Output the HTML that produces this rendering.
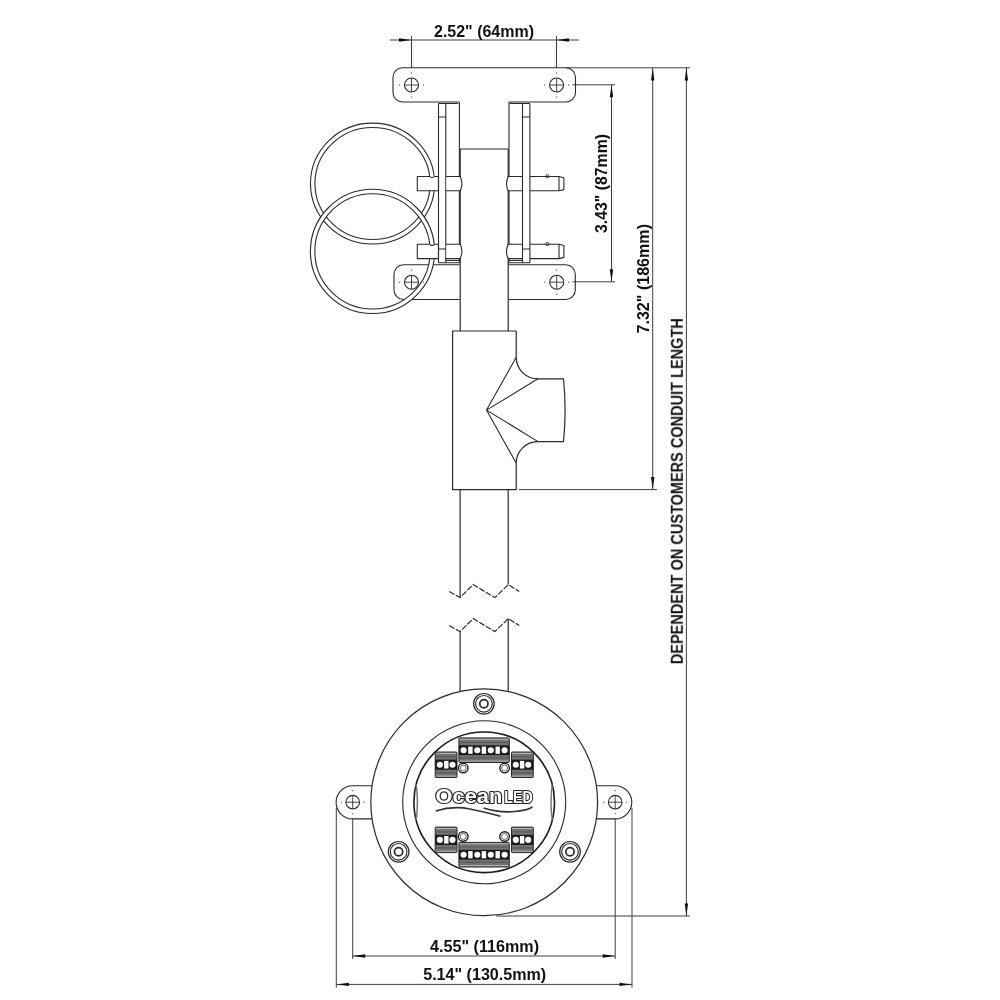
<!DOCTYPE html>
<html><head><meta charset="utf-8"><title>Dimensions</title>
<style>
html,body{margin:0;padding:0;background:#fff;}
body{width:1000px;height:1000px;overflow:hidden;font-family:"Liberation Sans",sans-serif;}
svg{display:block;will-change:transform;transform:translateZ(0);}
</style></head><body>
<svg width="1000" height="1000" viewBox="0 0 1000 1000">
<rect width="1000" height="1000" fill="#fff"/>
<g stroke="#3e3e46" stroke-width="1" fill="none">
<path d="M390 40H579"/>
<path d="M411.5 36V67.5M556.5 36V67.5"/>
<path d="M566 67.8H690"/>
<path d="M572.5 84.8H615M572.5 281.8H615M611.5 84.8V281.8"/>
<path d="M652.7 67.8V489.6M519 489.6H657"/>
<path d="M686.4 67.8V916M496 916H690"/>
<path d="M352.7 819V959M615.2 819V959M352.7 956H615.2"/>
<path d="M336.3 808V987.5M632 808V987.5M336.3 984.4H632"/>
</g>
<polygon points="411.5,40.0 399.0,38.3 399.0,41.7" fill="#111"/>
<polygon points="556.5,40.0 569.0,38.3 569.0,41.7" fill="#111"/>
<polygon points="611.5,84.8 609.8,97.3 613.2,97.3" fill="#111"/>
<polygon points="611.5,281.8 609.8,269.3 613.2,269.3" fill="#111"/>
<polygon points="652.7,68.0 651.0,80.5 654.4,80.5" fill="#111"/>
<polygon points="652.7,489.6 651.0,477.1 654.4,477.1" fill="#111"/>
<polygon points="686.4,68.0 684.7,80.5 688.1,80.5" fill="#111"/>
<polygon points="686.4,916.0 684.7,903.5 688.1,903.5" fill="#111"/>
<polygon points="352.7,956.0 365.2,954.3 365.2,957.7" fill="#111"/>
<polygon points="615.2,956.0 602.7,954.3 602.7,957.7" fill="#111"/>
<polygon points="336.4,984.4 348.9,982.7 348.9,986.1" fill="#111"/>
<polygon points="632.0,984.4 619.5,982.7 619.5,986.1" fill="#111"/>
<g stroke="#2a2a2a" stroke-width="1.1" fill="none" stroke-linejoin="round">
<ellipse cx="372.55" cy="183.55" rx="59.8" ry="58.2" stroke="#fff" stroke-width="4.4"/>
<ellipse cx="372.55" cy="183.55" rx="62.05" ry="60.45"/><ellipse cx="372.55" cy="183.55" rx="57.6" ry="56"/>
<path d="M459.5 264.8H403.5A9.5 9.5 0 0 0 394 274.3V290A9.5 9.5 0 0 0 403.5 299.5H459.5" fill="none"/>
<path d="M508.7 264.8H565.8A9.5 9.5 0 0 1 575.3 274.3V290A9.5 9.5 0 0 1 565.8 299.5H508.7"/>
<circle cx="372.5" cy="251.4" r="59.9" stroke="#fff" stroke-width="4.4"/>
<circle cx="372.5" cy="251.4" r="62.1"/><circle cx="372.5" cy="251.4" r="57.65"/>
<path d="M459.3 102H402.5A9.5 9.5 0 0 1 393 92.5V77.3A9.5 9.5 0 0 1 402.5 67.8H566A9.5 9.5 0 0 1 575.5 77.3V92.5A9.5 9.5 0 0 1 566 102H508.7"/>
<path d="M438.5 176.5H417.3V190.8H438.5Z" fill="#fff"/>
<path d="M430.3 176.5H433.9" stroke="#fff" stroke-width="1.8"/>
<path d="M429.7 176.5Q432 179.1 434.3 176.5"/>
<path d="M530 176.5H559L563.9 177.7V189.6L559 190.8H530"/>
<path d="M559 176.5V190.8"/>
<circle cx="547.4" cy="176.2" r="1.6" stroke-width="0.9"/>
<path d="M438.5 244.3H417.3V258.6H438.5Z" fill="#fff"/>
<path d="M430.3 244.3H433.9" stroke="#fff" stroke-width="1.8"/>
<path d="M429.7 244.3Q432 246.9 434.3 244.3"/>
<path d="M530 244.3H559L563.9 245.5V257.4L559 258.6H530"/>
<path d="M559 244.3V258.6"/>
<circle cx="547.4" cy="244.0" r="1.6" stroke-width="0.9"/>
<path d="M438.5 103.5V262.8M445.8 103.5V262.8M438.5 103.5H458M438.5 117H445.8M438.5 249H445.8M438.5 262.8H459.5M445.8 260.5H459.5"/>
<path d="M529.9 103.5V262.8M522.5 103.5V262.8M529.9 103.5H510M522.5 117H529.9M522.5 249H529.9M529.9 262.8H508.7M522.5 260.5H508.7"/>
<path d="M459.4 102V263M509.0 102V263" stroke-width="1.1"/>
<path d="M460.2 149H508.2M460.2 149V331M508.2 149V331" stroke-width="1.2"/>
<path d="M446.4 176.5H460.2Q463.6 183.7 460.2 190.8H446.4Z" fill="#fff" stroke="none"/>
<path d="M445.8 176.5H460.2Q463.6 183.7 460.2 190.8H445.8"/>
<path d="M521.9 176.5H508.2Q504.8 183.7 508.2 190.8H521.9Z" fill="#fff" stroke="none"/>
<path d="M522.5 176.5H508.2Q504.8 183.7 508.2 190.8H522.5"/>
<path d="M446.4 244.3H460.2Q463.6 251.5 460.2 258.6H446.4Z" fill="#fff" stroke="none"/>
<path d="M445.8 244.3H460.2Q463.6 251.5 460.2 258.6H445.8"/>
<path d="M521.9 244.3H508.2Q504.8 251.5 508.2 258.6H521.9Z" fill="#fff" stroke="none"/>
<path d="M522.5 244.3H508.2Q504.8 251.5 508.2 258.6H522.5"/>
<path d="M452.6 331H516.2V357.3A21.6 21.6 0 0 0 538 378.8H563.5Q566.7 410.2 563.5 441.6H538A21.6 21.6 0 0 0 516.2 463.1V489.6H452.6Z" stroke-width="1.2"/>
<path d="M516.2 357.3L486.5 410.1L516.2 463.1M538 378.8L486.5 410.1L538 441.6"/>
<path d="M460.1 489.6V597.6M508.2 489.6V584.6M460.1 631.6V691M508.2 618.6V691" stroke-width="1.2"/>
</g>
<g stroke="#2a2a2a" stroke-width="1.2" fill="none" stroke-dasharray="6 1.6">
<path d="M449.2 591.6L460 597.6L473.2 584.6L494.8 597.6L508.3 584.6L519.3 591.6"/>
<path d="M449.2 625.6L460 631.6L473.2 618.6L494.8 631.6L508.3 618.6L519.3 625.6"/>
</g>
<g stroke="#2a2a2a" stroke-width="1.1" fill="none">
<path d="M374 785.7H352.7A16.5 16.5 0 0 0 352.7 818.9H374" fill="#fff"/>
<path d="M594.5 785.7H615.2A16.5 16.5 0 0 1 615.2 818.9H594.5" fill="#fff"/>
<circle cx="484.2" cy="802.3" r="113.4" fill="#fff" stroke-width="1.2"/>
<circle cx="484.2" cy="802.3" r="81.5"/>
<circle cx="484.2" cy="802.3" r="70.3" stroke-width="1.6" stroke="#1c1c1c"/>
<path d="M416.2 784.6Q418.6 802.3 416.2 820M552.2 784.6Q549.8 802.3 552.2 820" stroke-width="1.5" stroke="#777"/>
</g>
<circle cx="352.7" cy="802.2" r="6.8" fill="#fff" stroke="#2a2a2a" stroke-width="1.1"/><path d="M345.9 802.2H359.5M352.7 795.4V809.0" stroke="#333" stroke-width="0.9" fill="none"/><rect x="340.6" y="801.6" width="1.2" height="1.2" fill="#666"/><rect x="363.6" y="801.6" width="1.2" height="1.2" fill="#666"/><rect x="352.1" y="790.1" width="1.2" height="1.2" fill="#666"/><rect x="352.1" y="813.1" width="1.2" height="1.2" fill="#666"/>
<circle cx="615.2" cy="802.2" r="6.8" fill="#fff" stroke="#2a2a2a" stroke-width="1.1"/><path d="M608.4 802.2H622.0M615.2 795.4V809.0" stroke="#333" stroke-width="0.9" fill="none"/><rect x="603.1" y="801.6" width="1.2" height="1.2" fill="#666"/><rect x="626.1" y="801.6" width="1.2" height="1.2" fill="#666"/><rect x="614.6" y="790.1" width="1.2" height="1.2" fill="#666"/><rect x="614.6" y="813.1" width="1.2" height="1.2" fill="#666"/>
<circle cx="483.9" cy="703.8" r="10.3" fill="#fff" stroke="#2a2a2a" stroke-width="1.2"/><circle cx="483.9" cy="703.8" r="8.3" fill="none" stroke="#2a2a2a" stroke-width="1.2"/><circle cx="483.9" cy="703.8" r="4.1" fill="none" stroke="#2a2a2a" stroke-width="1.7"/>
<circle cx="398.6" cy="851.8" r="10.3" fill="#fff" stroke="#2a2a2a" stroke-width="1.2"/><circle cx="398.6" cy="851.8" r="8.3" fill="none" stroke="#2a2a2a" stroke-width="1.2"/><circle cx="398.6" cy="851.8" r="4.1" fill="none" stroke="#2a2a2a" stroke-width="1.7"/>
<circle cx="570.0" cy="851.8" r="10.3" fill="#fff" stroke="#2a2a2a" stroke-width="1.2"/><circle cx="570.0" cy="851.8" r="8.3" fill="none" stroke="#2a2a2a" stroke-width="1.2"/><circle cx="570.0" cy="851.8" r="4.1" fill="none" stroke="#2a2a2a" stroke-width="1.7"/>
<circle cx="411.5" cy="85.0" r="7.0" fill="#fff" stroke="#2a2a2a" stroke-width="1.1"/><path d="M404.5 85.0H418.5M411.5 78.0V92.0" stroke="#333" stroke-width="0.9" fill="none"/><rect x="398.9" y="84.4" width="1.2" height="1.2" fill="#666"/><rect x="422.9" y="84.4" width="1.2" height="1.2" fill="#666"/><rect x="410.9" y="72.4" width="1.2" height="1.2" fill="#666"/><rect x="410.9" y="96.4" width="1.2" height="1.2" fill="#666"/>
<circle cx="556.6" cy="85.0" r="7.0" fill="#fff" stroke="#2a2a2a" stroke-width="1.1"/><path d="M549.6 85.0H563.6M556.6 78.0V92.0" stroke="#333" stroke-width="0.9" fill="none"/><rect x="544.0" y="84.4" width="1.2" height="1.2" fill="#666"/><rect x="568.0" y="84.4" width="1.2" height="1.2" fill="#666"/><rect x="556.0" y="72.4" width="1.2" height="1.2" fill="#666"/><rect x="556.0" y="96.4" width="1.2" height="1.2" fill="#666"/>
<circle cx="411.5" cy="282.2" r="7.0" fill="#fff" stroke="#2a2a2a" stroke-width="1.1"/><path d="M404.5 282.2H418.5M411.5 275.2V289.2" stroke="#333" stroke-width="0.9" fill="none"/><rect x="398.9" y="281.6" width="1.2" height="1.2" fill="#666"/><rect x="422.9" y="281.6" width="1.2" height="1.2" fill="#666"/><rect x="410.9" y="269.6" width="1.2" height="1.2" fill="#666"/><rect x="410.9" y="293.6" width="1.2" height="1.2" fill="#666"/>
<circle cx="556.7" cy="282.2" r="7.0" fill="#fff" stroke="#2a2a2a" stroke-width="1.1"/><path d="M549.7 282.2H563.7M556.7 275.2V289.2" stroke="#333" stroke-width="0.9" fill="none"/><rect x="544.1" y="281.6" width="1.2" height="1.2" fill="#666"/><rect x="568.1" y="281.6" width="1.2" height="1.2" fill="#666"/><rect x="556.1" y="269.6" width="1.2" height="1.2" fill="#666"/><rect x="556.1" y="293.6" width="1.2" height="1.2" fill="#666"/>
<g><rect x="458.9" y="737.9" width="50.4" height="24.6" rx="0.8" fill="#727272" stroke="#2a2a2a" stroke-width="1"/><path d="M459.7 739.3H508.5M459.7 761.1H508.5" stroke="#b8b8b8" stroke-width="1"/><path d="M459.7 742.5H508.5M459.7 757.9H508.5" stroke="#5a5a5a" stroke-width="1.2"/><rect x="458.9" y="745.3" width="50.4" height="9.8" fill="#1c1c1c"/><circle cx="463.6" cy="750.2" r="3.05" fill="#fff"/><circle cx="477.3" cy="750.2" r="3.05" fill="#fff"/><circle cx="490.8" cy="750.2" r="3.05" fill="#fff"/><circle cx="504.6" cy="750.2" r="3.05" fill="#fff"/><rect x="468.2" y="746.6" width="4.4" height="7.2" fill="#fff"/><rect x="481.7" y="746.6" width="4.4" height="7.2" fill="#fff"/><rect x="495.5" y="746.6" width="4.4" height="7.2" fill="#fff"/></g>
<g><rect x="435.2" y="752.0" width="21.8" height="25.5" rx="0.8" fill="#727272" stroke="#2a2a2a" stroke-width="1"/><path d="M436.0 753.4H456.2M436.0 776.1H456.2" stroke="#b8b8b8" stroke-width="1"/><path d="M436.0 756.7H456.2M436.0 772.8H456.2" stroke="#5a5a5a" stroke-width="1.2"/><rect x="435.2" y="759.6" width="21.8" height="10.2" fill="#1c1c1c"/><circle cx="439.9" cy="764.8" r="3.05" fill="#fff"/><circle cx="452.5" cy="764.8" r="3.05" fill="#fff"/><rect x="444.1" y="760.9" width="4.4" height="7.6" fill="#fff"/></g>
<g><rect x="511.5" y="752.0" width="21.8" height="25.5" rx="0.8" fill="#727272" stroke="#2a2a2a" stroke-width="1"/><path d="M512.3 753.4H532.5M512.3 776.1H532.5" stroke="#b8b8b8" stroke-width="1"/><path d="M512.3 756.7H532.5M512.3 772.8H532.5" stroke="#5a5a5a" stroke-width="1.2"/><rect x="511.5" y="759.6" width="21.8" height="10.2" fill="#1c1c1c"/><circle cx="515.8" cy="764.8" r="3.05" fill="#fff"/><circle cx="528.2" cy="764.8" r="3.05" fill="#fff"/><rect x="519.9" y="760.9" width="4.4" height="7.6" fill="#fff"/></g>
<g><rect x="458.9" y="842.4" width="50.4" height="24.6" rx="0.8" fill="#727272" stroke="#2a2a2a" stroke-width="1"/><path d="M459.7 843.8H508.5M459.7 865.6H508.5" stroke="#b8b8b8" stroke-width="1"/><path d="M459.7 847.0H508.5M459.7 862.4H508.5" stroke="#5a5a5a" stroke-width="1.2"/><rect x="458.9" y="849.8" width="50.4" height="9.8" fill="#1c1c1c"/><circle cx="463.6" cy="854.7" r="3.05" fill="#fff"/><circle cx="477.3" cy="854.7" r="3.05" fill="#fff"/><circle cx="490.8" cy="854.7" r="3.05" fill="#fff"/><circle cx="504.6" cy="854.7" r="3.05" fill="#fff"/><rect x="468.2" y="851.1" width="4.4" height="7.2" fill="#fff"/><rect x="481.7" y="851.1" width="4.4" height="7.2" fill="#fff"/><rect x="495.5" y="851.1" width="4.4" height="7.2" fill="#fff"/></g>
<g><rect x="435.2" y="827.1" width="21.8" height="25.5" rx="0.8" fill="#727272" stroke="#2a2a2a" stroke-width="1"/><path d="M436.0 828.5H456.2M436.0 851.2H456.2" stroke="#b8b8b8" stroke-width="1"/><path d="M436.0 831.8H456.2M436.0 847.9H456.2" stroke="#5a5a5a" stroke-width="1.2"/><rect x="435.2" y="834.8" width="21.8" height="10.2" fill="#1c1c1c"/><circle cx="439.9" cy="839.9" r="3.05" fill="#fff"/><circle cx="452.5" cy="839.9" r="3.05" fill="#fff"/><rect x="444.1" y="836.0" width="4.4" height="7.6" fill="#fff"/></g>
<g><rect x="511.5" y="827.1" width="21.8" height="25.5" rx="0.8" fill="#727272" stroke="#2a2a2a" stroke-width="1"/><path d="M512.3 828.5H532.5M512.3 851.2H532.5" stroke="#b8b8b8" stroke-width="1"/><path d="M512.3 831.8H532.5M512.3 847.9H532.5" stroke="#5a5a5a" stroke-width="1.2"/><rect x="511.5" y="834.8" width="21.8" height="10.2" fill="#1c1c1c"/><circle cx="515.8" cy="839.9" r="3.05" fill="#fff"/><circle cx="528.2" cy="839.9" r="3.05" fill="#fff"/><rect x="519.9" y="836.0" width="4.4" height="7.6" fill="#fff"/></g>
<circle cx="463.2" cy="768.1" r="4.8" fill="#fff" stroke="#222" stroke-width="1.4"/><circle cx="463.2" cy="768.1" r="3.0" fill="#fff" stroke="#666" stroke-width="1"/>
<circle cx="504.6" cy="768.1" r="4.8" fill="#fff" stroke="#222" stroke-width="1.4"/><circle cx="504.6" cy="768.1" r="3.0" fill="#fff" stroke="#666" stroke-width="1"/>
<circle cx="463.2" cy="836.5" r="4.8" fill="#fff" stroke="#222" stroke-width="1.4"/><circle cx="463.2" cy="836.5" r="3.0" fill="#fff" stroke="#666" stroke-width="1"/>
<circle cx="504.6" cy="836.5" r="4.8" fill="#fff" stroke="#222" stroke-width="1.4"/><circle cx="504.6" cy="836.5" r="3.0" fill="#fff" stroke="#666" stroke-width="1"/>
<g font-family="Liberation Sans, sans-serif" font-weight="bold" fill="#fff" stroke="#262626" stroke-width="2.2" paint-order="stroke" stroke-linejoin="round">
<text x="435.6" y="803.2" font-size="19.5" textLength="66.6" lengthAdjust="spacingAndGlyphs">Ocean</text>
<text x="504.3" y="802.8" font-size="16" textLength="28.4" lengthAdjust="spacingAndGlyphs">LED</text>
</g>
<path d="M435.8 811Q453 805.5 470 809T500.5 816.2" fill="none" stroke="#333" stroke-width="1.7"/>
<path d="M483.5 808Q500 813 515 811.5T532.5 806.8" fill="none" stroke="#333" stroke-width="1.7"/>
<g font-family="Liberation Sans, sans-serif" font-weight="bold" fill="#111" opacity="0.999">
<text x="434" y="37" font-size="16" textLength="100" lengthAdjust="spacingAndGlyphs">2.52" (64mm)</text>
<text x="430" y="952" font-size="16" textLength="109" lengthAdjust="spacingAndGlyphs">4.55" (116mm)</text>
<text x="423.2" y="980" font-size="16" textLength="123" lengthAdjust="spacingAndGlyphs">5.14" (130.5mm)</text>
<text transform="translate(607.3 233) rotate(-90)" font-size="16" textLength="99" lengthAdjust="spacingAndGlyphs">3.43" (87mm)</text>
<text transform="translate(649 333.5) rotate(-90)" font-size="16" textLength="109.5" lengthAdjust="spacingAndGlyphs">7.32" (186mm)</text>
<text transform="translate(682.8 664.2) rotate(-90)" font-size="16" textLength="346" lengthAdjust="spacingAndGlyphs">DEPENDENT ON CUSTOMERS CONDUIT LENGTH</text>
</g>
</svg>
</body></html>
